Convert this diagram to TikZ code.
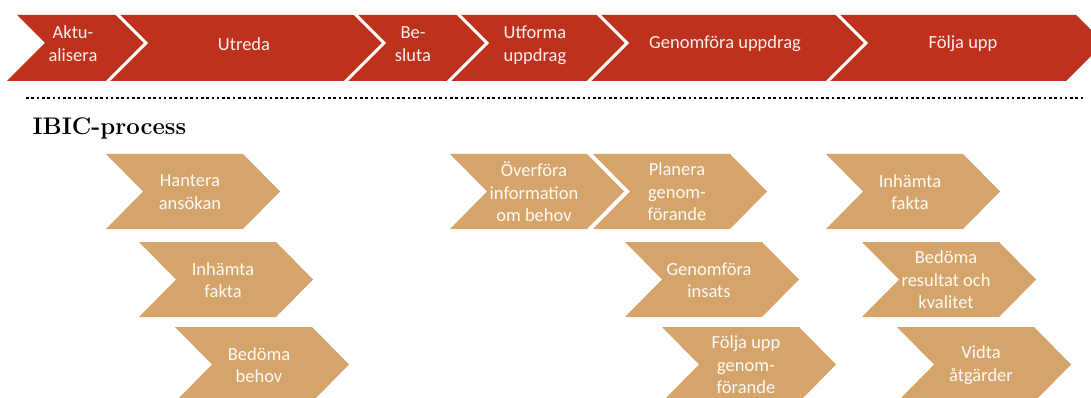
\documentclass[tikz,border=0pt]{standalone}
\usepackage{fontspec}
\newfontfamily\calibri{Carlito}
\definecolor{fasrod}{RGB}{190,49,29}
\definecolor{stegbrun}{RGB}{212,164,106}
\tikzset{
  fastext/.style={text=white!93!fasrod, align=center, font=\calibri\fontsize{18.5}{23}\selectfont},
  stegtext/.style={text=white!94!stegbrun, align=center, font=\calibri\fontsize{18.5}{22.5}\selectfont},
  skiljelinje/.style={draw=white, line width=3pt},
  prickad/.style={line width=2.6pt, dash pattern=on 2.6pt off 2.7pt},
  rubrik/.style={font=\bfseries\fontsize{24}{28}\selectfont}
}

\begin{document}
\begin{tikzpicture}[x=1pt, y=-1pt]
  \useasboundingbox (0,0) rectangle (1091,398);
  \clip (0,0) rectangle (1091,398);

  \fill[fasrod] (17,15) -- (1076,15) -- (1104,43) -- (1066,81) -- (7,81) -- (45,43) -- cycle;
  \foreach \t in {118,356,459,599,838}{
    \draw[skiljelinje] (\t-2,13) -- (\t+28,43) -- (\t-12,83);
  }
  \node[fastext] (aktualisera) at (73,44) {Aktu-\\alisera};
  \node[fastext] (utreda) at (244,44) {Utreda};
  \node[fastext] (besluta) at (413,44) {Be-\\sluta};
  \node[fastext] (utforma) at (535,45) {Utforma\\uppdrag};
  \node[fastext] (uppdrag) at (725,44) {Genomföra uppdrag};
  \node[fastext] (foljaupp) at (963,44) {Följa upp};

  \draw[prickad] (26,98) -- (1084,98);
  \node[rubrik, anchor=base west] (ibic) at (29,135) {IBIC-process};

  \foreach \x/\y/\namn/\txt in {
      106/154/hantera/{Hantera\\ansökan},
      139/242/inhamta/{Inhämta\\fakta},
      175/327/bedoma/{Bedöma\\behov},
      450/154/overfora/{Överföra\\information\\om behov},
      593/154/planera/{Planera\\genom-\\förande},
      625/242/insats/{Genomföra\\insats},
      662/327/foljupp/{Följa upp\\genom-\\förande},
      826/154/fakta/{Inhämta\\fakta},
      862/242/resultat/{Bedöma\\resultat och\\kvalitet},
      897/327/vidta/{Vidta\\åtgärder}}{
    \fill[stegbrun] (\x,\y) -- ++(137,0) -- ++(37,37.5) -- ++(-37,37.5) -- ++(-137,0) -- ++(37,-37.5) -- cycle;
    \node[stegtext] (\namn) at (\x+84,\y+38) {\txt};
  }
\end{tikzpicture}
\end{document}
